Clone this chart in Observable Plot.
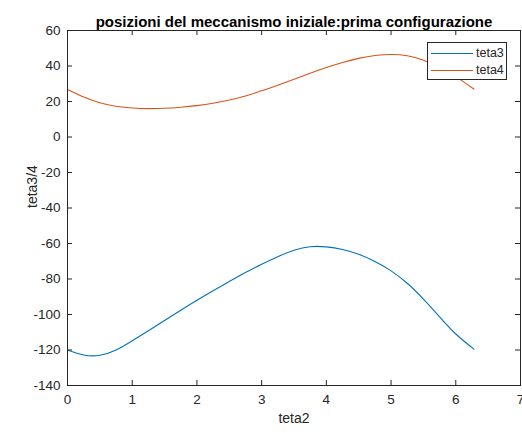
<!DOCTYPE html>
<html><head><meta charset="utf-8">
<script src="https://cdn.jsdelivr.net/npm/d3@7"></script>
<script src="https://cdn.jsdelivr.net/npm/@observablehq/plot@0.6"></script>
<style>
body{margin:0;background:#fff;font-family:"Liberation Sans",Arial,sans-serif}
#wrap{position:relative;width:522px;height:433px}
.legend{position:absolute;left:427px;top:42px;width:78px;height:36px;border:1px solid #262626;background:#fff;font-size:12.5px;color:#262626}
.legend .row{position:absolute;left:3px;height:14px;display:flex;align-items:center}
.legend .sw{width:42px;height:0;border-top:1px solid;margin-right:3px}
</style></head><body><div id="wrap"></div>
<script>
const teta2 = [0,0.25,0.5,0.75,1,1.25,1.5,1.75,2,2.25,2.5,2.75,3,3.25,3.5,3.75,4,4.25,4.5,4.75,5,5.25,5.5,5.75,6,6.28];
const teta3 = [-120,-122.8,-123,-120,-114.8,-109.2,-103.4,-97.6,-92,-86.6,-81.4,-76.4,-71.7,-67.4,-63.8,-61.8,-61.9,-63.4,-66.1,-70.1,-75.4,-82.4,-91.3,-101.3,-111,-119.5];
const teta4 = [26.7,22.5,19.3,17.3,16.3,16,16.2,16.8,17.7,19,20.8,23.1,26,29.2,32.5,35.9,39.1,42,44.3,45.9,46.5,45.8,43.3,39.3,34,27];
const xTicks = [0,1,2,3,4,5,6,7];
const yTicks = [-140,-120,-100,-80,-60,-40,-20,0,20,40,60];
const seriesNames = ["teta3","teta4"];
const seriesColors = ["#0072BD","#D95319"];
const titleText = "posizioni del meccanismo iniziale:prima configurazione";
const xLabel = "teta2";
const yLabel = "teta3/4";

const rows = [];
teta2.forEach((x,i)=>{ rows.push({x, y: teta3[i], s: seriesNames[0]}); rows.push({x, y: teta4[i], s: seriesNames[1]}); });

const W = 522, H = 433, mL = 67, mR = 2, mT = 30, mB = 48;
const ph = H - mT - mB, pw = W - mL - mR;
const axisColor = "#262626";

const chart = Plot.plot({
  width: W, height: H,
  marginLeft: mL, marginRight: mR, marginTop: mT, marginBottom: mB,
  style: {fontFamily: '"Liberation Sans", Arial, sans-serif', background: "#fff", color: axisColor},
  x: {domain: [0,7]},
  y: {domain: [-140,60]},
  color: {domain: seriesNames, range: seriesColors},
  marks: [
    Plot.line(rows, {x:"x", y:"y", z:"s", stroke:"s", strokeWidth:1.1, curve:"natural"}),
    Plot.tickX(xTicks, {x: d=>d, insetTop: ph-5, stroke: axisColor}),
    Plot.tickX(xTicks, {x: d=>d, insetBottom: ph-5, stroke: axisColor}),
    Plot.tickY(yTicks, {y: d=>d, insetRight: pw-5, stroke: axisColor}),
    Plot.tickY(yTicks, {y: d=>d, insetLeft: pw-5, stroke: axisColor}),
    Plot.frame({stroke: axisColor}),
    Plot.axisX(xTicks, {tickSize: 0, tickPadding: 9, fontSize: 13.5, label: null, fill: axisColor, tickFormat: d=>String(d)}),
    Plot.axisY(yTicks, {tickSize: 0, tickPadding: 7, fontSize: 13.5, label: null, fill: axisColor, tickFormat: d=>String(d)}),
    Plot.text([xLabel], {frameAnchor: "bottom", dy: 37, fontSize: 14, fill: axisColor}),
    Plot.text([yLabel], {frameAnchor: "left", dx: -35, rotate: -90, fontSize: 14, fill: axisColor}),
    Plot.text([titleText], {frameAnchor: "top", dy: -14, fontSize: 15, fontWeight: "bold", fill: "#000"})
  ]
});
const wrap = document.getElementById("wrap");
wrap.appendChild(chart);
const lg = document.createElement("div");
lg.className = "legend";
seriesNames.forEach((n,i)=>{
  const r = document.createElement("div");
  r.className = "row";
  r.style.top = (3 + i*17) + "px";
  const sw = document.createElement("span");
  sw.className = "sw"; sw.style.borderColor = seriesColors[i];
  const t = document.createElement("span"); t.textContent = n;
  r.appendChild(sw); r.appendChild(t); lg.appendChild(r);
});
wrap.appendChild(lg);
</script></body></html>
